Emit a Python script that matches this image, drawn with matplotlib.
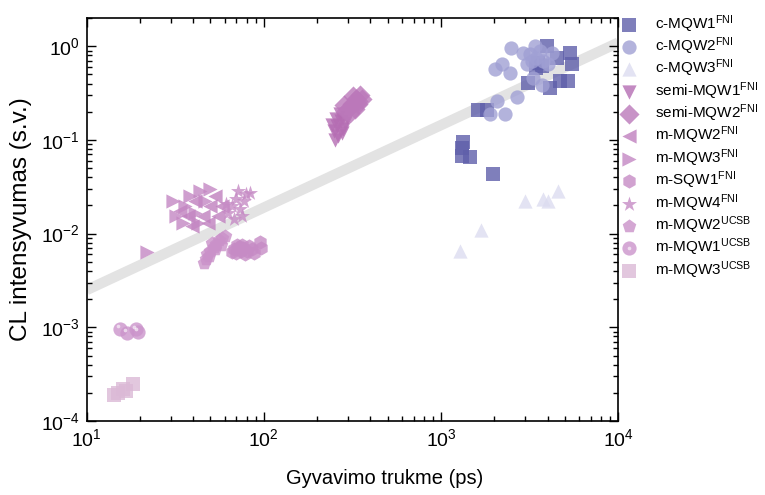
import matplotlib
matplotlib.use("Agg")
import matplotlib.pyplot as plt
import numpy as np
from matplotlib.legend_handler import HandlerTuple
from matplotlib.ticker import LogLocator, LogFormatterMathtext, NullFormatter

plt.rcParams["font.family"] = ["Liberation Sans", "DejaVu Sans"]
plt.rcParams["mathtext.fontset"] = "custom"
plt.rcParams["mathtext.rm"] = "Liberation Sans"
plt.rcParams["mathtext.it"] = "Liberation Sans"
plt.rcParams["mathtext.bf"] = "Liberation Sans"

# decay time (ps) and CL intensity (a.u.)
c_mqw1_x = [1330, 1310, 1320, 1460, 1970, 1620, 1810, 3100, 3460, 3950, 4490, 5330, 5460, 4690, 5220, 4120, 3520, 3700]
c_mqw1_y = [0.094, 0.082, 0.068, 0.065, 0.043, 0.21, 0.21, 0.41, 0.59, 1.0, 0.75, 0.85, 0.64, 0.43, 0.43, 0.36, 0.66, 0.62]

c_mqw2_x = [2500, 2015, 2200, 2450, 2060, 1890, 2300, 2690, 2910, 3180, 3390, 3460, 3310, 3700, 3780, 4210, 3040, 4030, 3600, 3250]
c_mqw2_y = [0.96, 0.565, 0.64, 0.52, 0.26, 0.188, 0.19, 0.29, 0.85, 0.82, 1.0, 0.75, 0.46, 0.39, 0.69, 0.85, 0.64, 0.64, 0.9, 0.7]

c_mqw3_x = [1280, 1690, 2970, 3770, 4030, 4580]
c_mqw3_y = [0.0066, 0.0108, 0.0225, 0.0234, 0.0225, 0.0287]

semi_mqw1_x = [249, 258, 272, 262, 280, 287, 255, 269, 294, 242, 252, 276]
semi_mqw1_y = [0.125, 0.141, 0.159, 0.110, 0.131, 0.152, 0.167, 0.189, 0.176, 0.144, 0.100, 0.118]

semi_mqw2_x = [298, 314, 331, 349, 325, 306, 283, 338, 358, 318, 290, 342]
semi_mqw2_y = [0.214, 0.242, 0.273, 0.301, 0.214, 0.194, 0.236, 0.242, 0.273, 0.294, 0.203, 0.26]

m_mqw2_fni_x = [33.6, 37.3, 40.9, 45.3, 49.6, 53.0, 48.4, 55.1, 58.0, 39.3]
m_mqw2_fni_y = [0.0176, 0.0155, 0.0225, 0.0155, 0.0199, 0.0254, 0.0131, 0.0155, 0.0199, 0.0122]

m_mqw3_fni_x = [30.7, 31.9, 35.9, 38.3, 40.9, 43.6, 46.5, 49.6, 42.5, 35.0, 21.9]
m_mqw3_fni_y = [0.0225, 0.0155, 0.0199, 0.0254, 0.0167, 0.0287, 0.0225, 0.0301, 0.0131, 0.0131, 0.0063]

m_sqw1_x = [68, 70, 72, 74, 76, 78, 80, 83, 86, 75, 71, 95, 97, 66, 88]
m_sqw1_y = [0.0068, 0.0062, 0.0072, 0.0065, 0.0070, 0.0060, 0.0066, 0.0073, 0.0069, 0.0076, 0.0075, 0.0081, 0.0070, 0.0064, 0.0062]

m_mqw4_x = [62.7, 66.1, 69.6, 73.3, 77.2, 71.4, 79.3, 83.5, 75.2, 67.8, 61.1]
m_mqw4_y = [0.0167, 0.0199, 0.0236, 0.0185, 0.0225, 0.0287, 0.0267, 0.0273, 0.0155, 0.0144, 0.0209]

m_mqw2_ucsb_x = [46, 47, 48, 50, 52, 54, 56, 58, 60, 49, 53, 51, 57]
m_mqw2_ucsb_y = [0.0048, 0.0054, 0.0060, 0.0065, 0.0072, 0.0078, 0.0085, 0.0090, 0.0095, 0.0057, 0.0068, 0.0079, 0.0075]

m_mqw1_ucsb_x = [15.5, 16.8, 18.9, 19.5]
m_mqw1_ucsb_y = [0.00097, 0.00087, 0.00095, 0.00090]

m_mqw3_ucsb_x = [14.2, 15.0, 16.0, 16.6, 18.2]
m_mqw3_ucsb_y = [0.00019, 0.0002, 0.00022, 0.00021, 0.00025]

# guide line: I = fit_i0 * (tau / 10)^fit_slope
fit_i0 = 2.5e-3
fit_slope = 0.88

series = [
    ("c-MQW1$^{\\mathrm{FNI}}$", c_mqw1_x, c_mqw1_y, "s", "#5f5faa"),
    ("c-MQW2$^{\\mathrm{FNI}}$", c_mqw2_x, c_mqw2_y, "o", "#a0a0d4"),
    ("c-MQW3$^{\\mathrm{FNI}}$", c_mqw3_x, c_mqw3_y, "^", "#dcdcf0"),
    ("semi-MQW1$^{\\mathrm{FNI}}$", semi_mqw1_x, semi_mqw1_y, "v", "#b56db3"),
    ("semi-MQW2$^{\\mathrm{FNI}}$", semi_mqw2_x, semi_mqw2_y, "D", "#bb78ba"),
    ("m-MQW2$^{\\mathrm{FNI}}$", m_mqw2_fni_x, m_mqw2_fni_y, "<", "#c080bf"),
    ("m-MQW3$^{\\mathrm{FNI}}$", m_mqw3_fni_x, m_mqw3_fni_y, ">", "#c487c3"),
    ("m-SQW1$^{\\mathrm{FNI}}$", m_sqw1_x, m_sqw1_y, "h", "#c68bc5"),
    ("m-MQW4$^{\\mathrm{FNI}}$", m_mqw4_x, m_mqw4_y, "*", "#c68bc5"),
    ("m-MQW2$^{\\mathrm{UCSB}}$", m_mqw2_ucsb_x, m_mqw2_ucsb_y, "p", "#ca91c9"),
    ("m-MQW1$^{\\mathrm{UCSB}}$", m_mqw1_ucsb_x, m_mqw1_ucsb_y, "o", "#cb94cb"),
    ("m-MQW3$^{\\mathrm{UCSB}}$", m_mqw3_ucsb_x, m_mqw3_ucsb_y, "s", "#dbb9d6"),
]

fig = plt.figure(figsize=(7.65, 4.95), dpi=100)
ax = fig.add_axes([0.1133, 0.1495, 0.6947, 0.8141])

tau = np.array([10, 1e4])
ax.plot(tau, fit_i0 * (tau / 10) ** fit_slope, color="#e3e3e3", lw=7.5,
        solid_capstyle="butt", zorder=1)

handles = []
labels = []
for label, xs, ys, marker, color in series:
    size = 130 if marker == "*" else 105
    h = ax.scatter(xs, ys, s=size, marker=marker, color=color, alpha=0.8,
                   linewidths=0, zorder=2)
    if "m-MQW1$^{\\mathrm{UCSB}}" in label:
        # small highlight so it looks like a sphere
        hl = ax.scatter(np.array(xs) * 0.975, np.array(ys) * 1.07, s=7,
                        marker="o", color="white", alpha=0.6, linewidths=0, zorder=3)
        h = (h, hl)
    handles.append(h)
    labels.append(label)

ax.set_xscale("log")
ax.set_yscale("log")
ax.set_xlim(10, 1e4)
ax.set_ylim(1e-4, 2)

for axis in (ax.xaxis, ax.yaxis):
    axis.set_major_locator(LogLocator(base=10, numticks=10))
    axis.set_minor_locator(LogLocator(base=10, subs=np.arange(2, 10), numticks=10))
    axis.set_major_formatter(LogFormatterMathtext())
    axis.set_minor_formatter(NullFormatter())

ax.tick_params(which="both", direction="in", top=True, right=True, width=1.0,
               labelsize=14, color="black")
ax.tick_params(which="major", length=6.5, pad=5)
ax.tick_params(which="minor", length=3.5)
for sp in ax.spines.values():
    sp.set_linewidth(1.2)

ax.set_xlabel("Gyvavimo trukme (ps)", fontsize=14.5)
ax.xaxis.set_label_coords(0.56, -0.12)
ax.set_ylabel("CL intensyvumas (s.v.)", fontsize=17.5, labelpad=6)

ax.legend(handles, labels, loc="upper left", bbox_to_anchor=(1.0, 1.02),
          frameon=False, fontsize=11, handletextpad=1.2, labelspacing=0.05,
          handlelength=1.0, borderaxespad=0.0, borderpad=0.2, scatterpoints=1,
          handler_map={tuple: HandlerTuple(ndivide=1)})

fig.savefig("out.png", dpi=100)
